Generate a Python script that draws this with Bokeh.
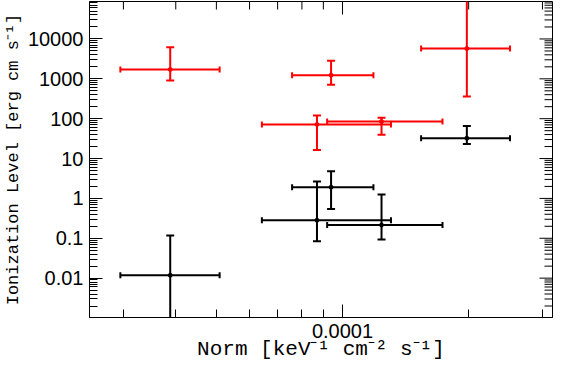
import math
from bokeh.plotting import figure
from bokeh.models import (ColumnDataSource, FixedTicker, Range1d,
                          CustomJSTickFormatter)
from bokeh.embed import file_html
from bokeh.resources import INLINE

# ---- data ----
red_x = [3.88e-5, 9.39e-5, 1.98e-4, 8.69e-5, 1.239e-4]
red_x_lo = [2.95e-5, 7.58e-5, 1.54e-4, 6.42e-5, 9.19e-5]
red_x_hi = [5.09e-5, 1.185e-4, 2.51e-4, 1.305e-4, 1.732e-4]
red_y = [1720, 1235, 5740, 71.7, 84.7]
red_y_lo = [905, 709, 358, 16.3, 39.6]
red_y_hi = [6170, 2840, 1.0e5, 120, 106]

black_x = [1.98e-4, 9.39e-5, 8.69e-5, 1.239e-4, 3.88e-5]
black_x_lo = [1.54e-4, 7.58e-5, 6.42e-5, 9.19e-5, 2.95e-5]
black_x_hi = [2.51e-4, 1.185e-4, 1.305e-4, 1.732e-4, 5.09e-5]
black_y = [32.4, 1.91, 0.284, 0.215, 0.0118]
black_y_lo = [23.2, 0.543, 0.0838, 0.0936, 1.0e-4]
black_y_hi = [65.2, 4.81, 2.67, 1.25, 0.117]

x_major_ticks = [1e-4]
y_major_ticks = [0.01, 0.1, 1, 10, 100, 1000, 10000]

x_range = (2.49e-5, 3.17e-4)
y_range = (1.03e-3, 8.7e4)

x_label = "Norm [keV\u207b\u00b9 cm\u207b\u00b2 s\u207b\u00b9]"
y_label = "Ionization Level [erg cm s\u207b\u00b9]"

# minor tick positions
def minors(lo_exp, hi_exp, lo, hi):
    out = []
    for e in range(lo_exp, hi_exp + 1):
        for k in range(2, 10):
            v = k * 10.0 ** e
            if lo <= v <= hi:
                out.append(v)
    return out

x_minor = minors(-6, -3, *x_range)
y_minor = minors(-4, 5, *y_range)

MAJOR_LEN = 13
MINOR_LEN = 8

p = figure(width=553, height=363, x_axis_type="log", y_axis_type="log",
           x_range=Range1d(*x_range), y_range=Range1d(*y_range),
           output_backend="svg", toolbar_location=None,
           min_border_left=76, min_border_right=1, min_border_top=1,
           min_border_bottom=40)
p.grid.visible = False
p.outline_line_color = "black"
p.outline_line_width = 1
p.background_fill_color = "white"
p.border_fill_color = "white"

fmt = CustomJSTickFormatter(code="""
if (tick >= 1) { return tick.toFixed(0); }
return String(Number(tick.toPrecision(1)));
""")

for ax in (p.xaxis[0], p.yaxis[0]):
    ax.major_tick_in = MAJOR_LEN
    ax.major_tick_out = 0
    ax.minor_tick_in = MINOR_LEN
    ax.minor_tick_out = 0
    ax.major_tick_line_color = "black"
    ax.minor_tick_line_color = "black"
    ax.axis_line_color = "black"
    ax.major_label_text_font = "Liberation Sans"
    ax.major_label_text_font_size = "20px"
    ax.major_label_text_color = "black"
    ax.axis_label_text_font = "Liberation Mono"
    ax.axis_label_text_font_style = "normal"
    ax.axis_label_text_color = "black"
    ax.formatter = fmt

p.xaxis.ticker = FixedTicker(ticks=x_major_ticks, minor_ticks=x_minor)
p.yaxis.ticker = FixedTicker(ticks=y_major_ticks, minor_ticks=y_minor)
p.xaxis.axis_label = x_label
p.yaxis.axis_label = y_label
p.xaxis.axis_label_text_font_size = "21px"
p.yaxis.axis_label_text_font_size = "17px"
p.xaxis.major_label_standoff = 6
p.yaxis.major_label_standoff = 6
p.xaxis.axis_label_standoff = -3
p.yaxis.axis_label_standoff = 2

# mirrored inward ticks on the top and right edges: markers centred on the
# frame edge, half of each clipped away by the frame
top_src = ColumnDataSource(dict(
    x=x_major_ticks + x_minor,
    y=[y_range[1]] * (len(x_major_ticks) + len(x_minor)),
    s=[2 * MAJOR_LEN] * len(x_major_ticks) + [2 * MINOR_LEN] * len(x_minor)))
p.scatter(x="x", y="y", size="s", source=top_src, marker="dash",
          angle=math.pi / 2, line_color="black", line_width=1)
right_src = ColumnDataSource(dict(
    x=[x_range[1]] * (len(y_major_ticks) + len(y_minor)),
    y=y_major_ticks + y_minor,
    s=[2 * MAJOR_LEN] * len(y_major_ticks) + [2 * MINOR_LEN] * len(y_minor)))
p.scatter(x="x", y="y", size="s", source=right_src, marker="dash",
          line_color="black", line_width=1)

def draw(xs, xlo, xhi, ys, ylo, yhi, color):
    src = ColumnDataSource(dict(x=xs, xlo=xlo, xhi=xhi, y=ys, ylo=ylo, yhi=yhi))
    p.segment(x0="xlo", y0="y", x1="xhi", y1="y", source=src,
              line_color=color, line_width=2)
    p.segment(x0="x", y0="ylo", x1="x", y1="yhi", source=src,
              line_color=color, line_width=2)
    for col in ("xlo", "xhi"):
        p.scatter(x=col, y="y", source=src, marker="dash", angle=math.pi / 2,
                  size=6, line_color=color, line_width=2)
    for col in ("ylo", "yhi"):
        p.scatter(x="x", y=col, source=src, marker="dash",
                  size=8, line_color=color, line_width=2)
    p.scatter(x="x", y="y", source=src, marker="circle", size=4,
              fill_color=color, line_color=color)

draw(red_x, red_x_lo, red_x_hi, red_y, red_y_lo, red_y_hi, "#ff0000")
draw(black_x, black_x_lo, black_x_hi, black_y, black_y_lo, black_y_hi, "black")

open("out.html", "w").write(file_html(p, INLINE))
